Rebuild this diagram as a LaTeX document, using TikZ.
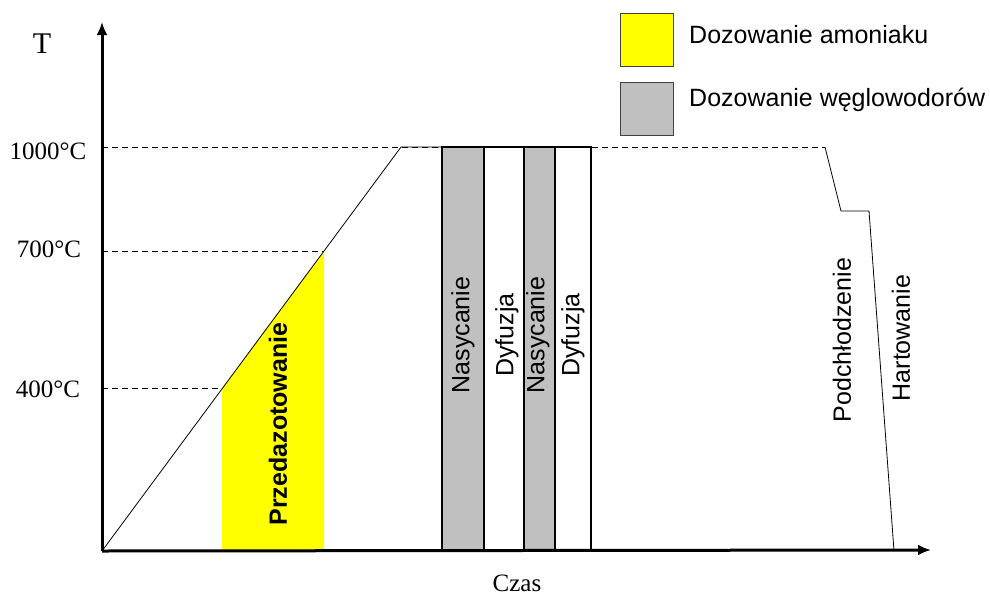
\documentclass[tikz,border=0pt]{standalone}
\usepackage{fontspec}
\setmainfont{Liberation Serif}
\setsansfont{Liberation Sans}
\usetikzlibrary{arrows.meta,positioning}
\definecolor{dosegray}{RGB}{192,192,192}
\definecolor{doseyellow}{RGB}{255,255,0}
\definecolor{edgegray}{RGB}{64,64,64}

\begin{document}
\begin{tikzpicture}[x=1pt,y=-1pt,font=\fontsize{25}{30}\selectfont]
  \tikzset{axis/.style={line width=3pt,-{Latex[length=13pt,width=11pt]}},
    guide/.style={dash pattern=on 6pt off 4pt,line width=0.9pt},
    band/.style={draw,line width=1.2pt,fill=#1},
    swatch/.style={draw=edgegray,line width=1pt,fill=#1,minimum size=53pt,inner sep=0pt},
    phase/.style={rotate=90,inner sep=0pt,font=\sffamily\fontsize{25}{30}\selectfont},
    temp/.style={anchor=base,inner sep=0pt,font=\rmfamily\fontsize{25}{30}\selectfont}}
  \useasboundingbox (0,0) rectangle (990,597);
  % key points of the cycle
  \coordinate (o) at (102,551);
  \coordinate (ytip) at (102,22);
  \coordinate (xtip) at (931,550);
  \coordinate (top) at (401,147);
  \coordinate (t700) at (324,251);
  \coordinate (t400) at (222,388);
  \coordinate (coolA) at (825,147);
  \coordinate (coolB) at (841,211);
  \coordinate (coolC) at (869,211);
  \coordinate (quench) at (894,551);
  % ammonia dosing
  \fill[doseyellow] (t400) -- (t400 |- o) -- (t700 |- o) -- (t700) -- cycle;
  % hydrocarbon dosing and diffusion
  \draw[band=dosegray] (442,551) rectangle (484,147);
  \draw[band=white] (484,551) rectangle (524,147);
  \draw[band=dosegray] (524,551) rectangle (555,147);
  \draw[band=white] (555,551) rectangle (591,147);
  % guide lines
  \draw[guide] (o |- top) -- (coolA);
  \draw[guide] (o |- t700) -- (t700);
  \draw[guide] (o |- t400) -- (t400);
  % temperature profile
  \draw[line width=0.8pt] (o) -- (top) -- (591,147);
  \draw[line width=0.8pt] (coolA) -- (coolB) -- (coolC) -- (quench);
  % axes
  \draw[axis] (o) -- (ytip);
  \draw[axis] (o) -- (xtip);
  \node[temp,font=\rmfamily\fontsize{30}{34}\selectfont] (lblT) at (42,53) {T};
  \node[temp] (lbl1000) at (48,159) {1000°C};
  \node[temp] (lbl700) at (49,257) {700°C};
  \node[temp] (lbl400) at (48,397) {400°C};
  \node[temp] (lblczas) at (517,591) {Czas};
  % phase labels
  \node[phase,font=\sffamily\bfseries\fontsize{25}{30}\selectfont] (predaz) at (278,424) {Przedazotowanie};
  \node[phase] (nas1) at (463,335) {Nasycanie};
  \node[phase] (dyf1) at (507,335) {Dyfuzja};
  \node[phase] (nas2) at (538,335) {Nasycanie};
  \node[phase] (dyf2) at (573,335) {Dyfuzja};
  \node[phase] (podch) at (842,340) {Podchłodzenie};
  \node[phase] (hart) at (901,338) {Hartowanie};
  % legend
  \node[swatch=doseyellow] (legNH) at (646.5,40) {};
  \node[swatch=dosegray, below=15pt of legNH] (legCH) {};
  \node[anchor=base west,inner sep=0pt,font=\sffamily\fontsize{25}{30}\selectfont] (txtNH) at (689,43) {Dozowanie amoniaku};
  \node[anchor=base west,inner sep=0pt,font=\sffamily\fontsize{25}{30}\selectfont] (txtCH) at (689,106) {Dozowanie węglowodorów};
\end{tikzpicture}
\end{document}
